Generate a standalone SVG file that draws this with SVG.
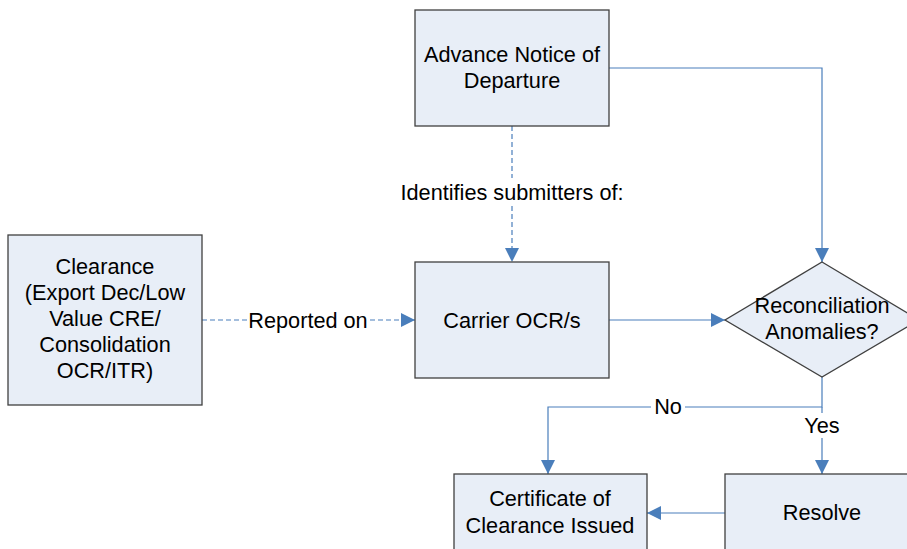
<svg xmlns="http://www.w3.org/2000/svg" width="907" height="549" viewBox="0 0 907 549">
  <defs>
    <marker id="arrow" viewBox="0 0 10 10" refX="10" refY="5" markerWidth="14" markerHeight="14" markerUnits="userSpaceOnUse" orient="auto">
      <path d="M0,0 L10,5 L0,10 Z" fill="#4a7ebb"/>
    </marker>
    <style>
      .box { fill: #e8eef7; stroke: #404040; stroke-width: 1.3; }
      .lbl { font-family: "Liberation Sans", Arial, sans-serif; font-size: 21.7px; fill: #000; text-anchor: middle; }
      .conn { fill: none; stroke: #4a7ebb; stroke-width: 1.2; }
      .dash { stroke-dasharray: 5 3; }
      .bg { fill: #fff; }
    </style>
  </defs>
  <rect width="907" height="549" fill="#fff"/>

  <g id="connectors">
    <path class="conn" d="M609,68 H822 V262" marker-end="url(#arrow)"/>
    <path class="conn dash" d="M512,126 V262" marker-end="url(#arrow)"/>
    <path class="conn dash" d="M202,320 H415" marker-end="url(#arrow)"/>
    <path class="conn" d="M609,320 H725" marker-end="url(#arrow)"/>
    <path class="conn" d="M822,377 V407 H548 V474" marker-end="url(#arrow)"/>
    <path class="conn" d="M822,407 V474" marker-end="url(#arrow)"/>
    <path class="conn" d="M725,513 H647" marker-end="url(#arrow)"/>
    <rect class="bg" x="398" y="178" width="228" height="28"/>
    <text class="lbl" x="512" y="200">Identifies submitters of:</text>
    <rect class="bg" x="248" y="306" width="120" height="28"/>
    <text class="lbl" x="308" y="328">Reported on</text>
    <rect class="bg" x="651" y="395" width="34" height="24"/>
    <text class="lbl" x="668" y="414">No</text>
    <rect class="bg" x="801" y="413" width="42" height="25"/>
    <text class="lbl" x="822" y="433">Yes</text>
  </g>

  <g id="advance-notice">
    <rect class="box" x="415" y="10" width="194" height="116"/>
    <text class="lbl" x="512" y="62">Advance Notice of</text>
    <text class="lbl" x="512" y="88">Departure</text>
  </g>

  <g id="clearance">
    <rect class="box" x="8" y="235" width="194" height="170"/>
    <text class="lbl" x="105" y="274">Clearance</text>
    <text class="lbl" x="105" y="300">(Export Dec/Low</text>
    <text class="lbl" x="105" y="326">Value CRE/</text>
    <text class="lbl" x="105" y="352">Consolidation</text>
    <text class="lbl" x="105" y="378">OCR/ITR)</text>
  </g>

  <g id="carrier-ocr">
    <rect class="box" x="415" y="262" width="194" height="116"/>
    <text class="lbl" x="512" y="328">Carrier OCR/s</text>
  </g>

  <g id="reconciliation">
    <polygon class="box" points="822,262 919,320 822,377 725,320"/>
    <text class="lbl" x="822" y="313">Reconciliation</text>
    <text class="lbl" x="822" y="339">Anomalies?</text>
  </g>

  <g id="certificate">
    <rect class="box" x="454" y="474" width="193" height="90"/>
    <text class="lbl" x="550" y="506">Certificate of</text>
    <text class="lbl" x="550" y="533">Clearance Issued</text>
  </g>

  <g id="resolve">
    <rect class="box" x="725" y="474" width="194" height="90"/>
    <text class="lbl" x="822" y="520">Resolve</text>
  </g>
</svg>
